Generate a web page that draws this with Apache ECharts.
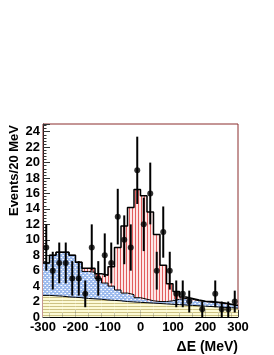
<!DOCTYPE html>
<html><head><meta charset="utf-8">
<script src="https://cdn.jsdelivr.net/npm/echarts@6/dist/echarts.min.js"></script>
<style>html,body{margin:0;padding:0;background:#fff}#c{width:274px;height:355px}</style>
</head><body><div id="c"></div>
<script>
// ---- data (ΔE in MeV, 20 MeV bins) ----
const binCenters = [-290,-270,-250,-230,-210,-190,-170,-150,-130,-110,-90,-70,-50,-30,-10,10,30,50,70,90,110,130,150,170,190,210,230,250,270,290];
const binWidth = 20;
const dataCounts = [9,6,7,7,5,5,3,9,5,8,7,13,10,9,19,12,16,6,11,6,3,3,2,0,1,0,3,1,1,2];
const yellowBkg = [2.8,2.75,2.7,2.6,2.55,2.5,2.4,2.35,2.3,2.2,2.15,2.1,2.0,1.95,1.9,1.85,1.8,1.75,1.7,1.65,1.6,1.55,1.5,1.45,1.4,1.35,1.3,1.25,1.2,1.15];
const blueBkg = [4.2,5.25,5.7,5.8,5.45,4.6,3.5,3.45,2.7,2.2,1.85,1.4,1.1,0.95,0.6,0.45,0.3,0.25,0.3,0.45,0.7,0.85,0.8,0.65,0.6,0.55,0.55,0.5,0.4,0.35];
const signal = [0,0,0,0,0,0,0.4,0.5,0.6,1.0,2.5,5.5,8.7,11.3,14.0,13.4,11.5,8.7,4.7,2.2,1.0,0.2,0.1,0.1,0.05,0.1,0.05,0.05,0.05,0];
const xRange = [-300, 300];
const yRange = [0, 25];

// ---- patterns ----
function makePattern(w, h, bg, draw) {
  const c = document.createElement('canvas');
  c.width = w; c.height = h;
  const g = c.getContext('2d');
  g.fillStyle = bg; g.fillRect(0, 0, w, h);
  draw(g);
  return {image: c, repeat: 'repeat'};
}
const yellowPat = makePattern(4, 3, '#fcfad6', g => { g.fillStyle = '#cdc283'; g.fillRect(0, 0, 4, 1); });
const bluePat = makePattern(4, 4, '#9dbbee', g => {
  g.fillStyle = '#ffffff'; g.fillRect(1, 1, 1, 1); g.fillRect(3, 3, 1, 1);
  g.fillStyle = '#d6e2f8'; g.fillRect(0, 1, 1, 1); g.fillRect(2, 3, 1, 1);
});
const redPat = makePattern(3, 4, '#fde6e6', g => { g.fillStyle = '#e25c5c'; g.fillRect(0, 0, 1, 4); });

// ---- stacking ----
const lvl0 = binCenters.map(() => 0);
const lvl1 = yellowBkg.slice();
const lvl2 = lvl1.map((v, i) => v + blueBkg[i]);
const lvl3 = lvl2.map((v, i) => v + signal[i]);

function rects(base, top) {
  return binCenters.map((c, i) => [c - binWidth / 2, c + binWidth / 2, base[i], top[i]]);
}
function renderRect(pattern) {
  return function (params, api) {
    const p0 = api.coord([api.value(0), api.value(2)]);
    const p1 = api.coord([api.value(1), api.value(3)]);
    return {type: 'rect', shape: {x: p0[0], y: p1[1], width: p1[0] - p0[0], height: p0[1] - p1[1]},
            style: {fill: pattern}};
  };
}
function stepData(top) {
  const d = binCenters.map((c, i) => [c - binWidth / 2, top[i]]);
  d.push([binCenters[binCenters.length - 1] + binWidth / 2, top[top.length - 1]]);
  return d;
}
function stepSeries(top, w) {
  return {type: 'line', step: 'end', data: stepData(top), symbol: 'none', silent: true,
          lineStyle: {color: '#000', width: w}, z: 5, animation: false};
}
const pts = binCenters.map((c, i) => [c, dataCounts[i], Math.sqrt(dataCounts[i])]).filter(p => p[1] > 0);

const chart = echarts.init(document.getElementById('c'), null, {renderer: 'canvas'});
const font = '"Liberation Sans", Arial, Helvetica, sans-serif';
chart.setOption({
  animation: false,
  grid: {left: 43, right: 36, top: 124, bottom: 38, show: true, borderColor: '#8a2c2c', borderWidth: 1, backgroundColor: 'transparent'},
  xAxis: {
    type: 'value', min: xRange[0], max: xRange[1], interval: 100,
    axisLine: {show: true, onZero: false, lineStyle: {color: '#000', width: 1}},
    axisTick: {show: true, inside: true, length: 7, lineStyle: {color: '#333'}},
    minorTick: {show: true, splitNumber: 5, length: 4, lineStyle: {color: '#333'}},
    splitLine: {show: false},
    axisLabel: {color: '#000', fontFamily: font, fontWeight: 'bold', fontSize: 13, margin: 4}
  },
  yAxis: {
    type: 'value', min: yRange[0], max: yRange[1], interval: 2,
    axisLine: {show: true, onZero: false, lineStyle: {color: '#3a1a1a', width: 1}},
    axisTick: {show: true, inside: true, length: 7, lineStyle: {color: '#333'}},
    minorTick: {show: true, splitNumber: 5, length: 3.5, lineStyle: {color: '#333'}},
    splitLine: {show: false},
    axisLabel: {color: '#000', fontFamily: font, fontWeight: 'bold', fontSize: 13, margin: 3,
                formatter: v => (v % 2 === 0 ? String(v) : '')}
  },
  graphic: [
    {type: 'text', x: 14, y: 125, rotation: Math.PI / 2,
     style: {text: 'Events/20 MeV', font: 'bold 13px ' + font, fill: '#000', align: 'right', verticalAlign: 'middle'}},
    {type: 'text', x: 238, y: 347,
     style: {text: 'ΔE (MeV)', font: 'bold 14px ' + font, fill: '#000', align: 'right', verticalAlign: 'middle'}}
  ],
  series: [
    {type: 'custom', renderItem: renderRect(yellowPat), data: rects(lvl0, lvl1), encode: {x: [0, 1], y: [2, 3]}, z: 1, silent: true},
    {type: 'custom', renderItem: renderRect(bluePat), data: rects(lvl1, lvl2), encode: {x: [0, 1], y: [2, 3]}, z: 1, silent: true},
    {type: 'custom', renderItem: renderRect(redPat), data: rects(lvl2, lvl3), encode: {x: [0, 1], y: [2, 3]}, z: 1, silent: true},
    stepSeries(lvl1, 1),
    stepSeries(lvl2, 1),
    stepSeries(lvl3, 1.5),
    {type: 'custom', z: 10, silent: true, data: pts, encode: {x: 0, y: 1},
     renderItem: function (params, api) {
       const x = api.value(0), y = api.value(1), e = api.value(2);
       const a = api.coord([x, Math.max(0, y - e)]), b = api.coord([x, y + e]);
       return {type: 'line', shape: {x1: a[0], y1: a[1], x2: b[0], y2: b[1]}, style: {stroke: '#000', lineWidth: 2}};
     }},
    {type: 'scatter', z: 11, data: pts.map(p => [p[0], p[1]]), symbol: 'circle', symbolSize: 6,
     itemStyle: {color: '#000'}, silent: true}
  ]
});
</script></body></html>
